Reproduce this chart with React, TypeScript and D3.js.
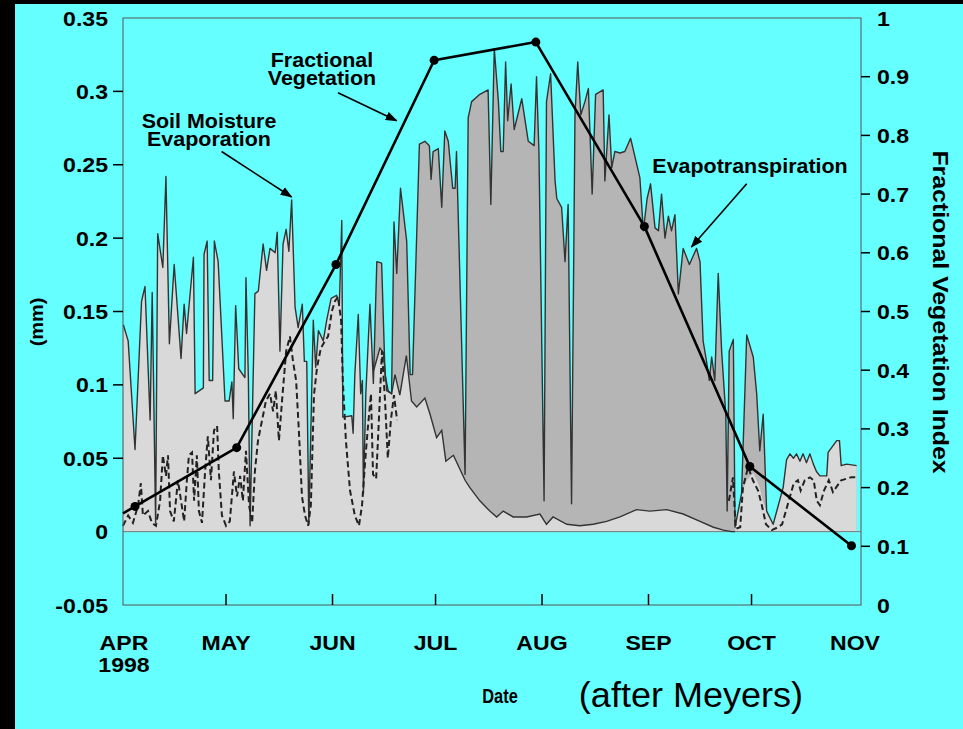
import React from 'react';
import * as d3 from 'd3';

const W = 963;
const H = 729;

// Days are counted from 1 April 1998.
const monthStarts = [0, 30, 61, 91, 122, 153, 183, 214];
const monthLabels = ['APR', 'MAY', 'JUN', 'JUL', 'AUG', 'SEP', 'OCT', 'NOV'];

const mmTicks = [0.35, 0.3, 0.25, 0.2, 0.15, 0.1, 0.05, 0, -0.05];
const mmTickLabels = ['0.35', '0.3', '0.25', '0.2', '0.15', '0.1', '0.05', '0', '-0.05'];
const fvTicks = [1, 0.9, 0.8, 0.7, 0.6, 0.5, 0.4, 0.3, 0.2, 0.1, 0];
const fvTickLabels = ['1', '0.9', '0.8', '0.7', '0.6', '0.5', '0.4', '0.3', '0.2', '0.1', '0'];

// Daily evapotranspiration envelope [day, mm]
const evapotranspiration: [number, number][] = [
  [0.1, 0.141], [1.5, 0.13], [3.5, 0.056], [5.4, 0.157], [6.4, 0.167], [7.9, 0.076], [8.5, 0.163],
  [9.5, 0.006], [10.1, 0.203], [11.6, 0.18], [12.5, 0.242], [13.5, 0.128], [14.9, 0.182], [16.9, 0.118],
  [17.8, 0.155], [18.5, 0.135], [20.5, 0.187], [21.0, 0.094], [23.4, 0.098], [23.6, 0.189], [24.5, 0.198],
  [25.1, 0.103], [26.1, 0.103], [26.6, 0.198], [27.7, 0.184], [29.7, 0.089], [30.9, 0.089], [31.7, 0.102],
  [32.1, 0.077], [32.8, 0.154], [33.7, 0.111], [35.5, 0.105], [35.8, 0.173], [36.5, 0.105], [37.0, 0.004],
  [38.4, 0.162], [39.4, 0.164], [40.8, 0.196], [41.8, 0.178], [42.8, 0.193], [44.3, 0.19], [44.9, 0.204],
  [45.7, 0.123], [46.6, 0.196], [47.5, 0.206], [48.3, 0.191], [49.1, 0.226], [50.1, 0.153], [51.0, 0.139],
  [52.2, 0.155], [52.8, 0.116], [53.5, 0.116], [54.1, 0.005], [55.4, 0.144], [56.1, 0.112], [56.9, 0.137],
  [58.3, 0.13], [59.3, 0.144], [60.6, 0.159], [62.2, 0.161], [63.0, 0.155], [63.7, 0.212], [64.0, 0.078],
  [66.6, 0.079], [67.0, 0.067], [67.5, 0.107], [68.5, 0.148], [69.2, 0.094], [69.7, 0.103], [70.0, 0.026],
  [70.7, 0.094], [71.9, 0.155], [72.9, 0.101], [73.9, 0.184], [75.3, 0.183], [76.3, 0.107], [77.2, 0.096],
  [78.2, 0.094], [78.9, 0.211], [79.7, 0.176], [80.8, 0.234], [82.6, 0.198], [83.6, 0.107], [84.3, 0.107],
  [86.3, 0.264], [87.9, 0.266], [89.2, 0.263], [89.7, 0.24], [90.3, 0.259], [91.8, 0.261], [92.8, 0.221],
  [93.7, 0.273], [94.7, 0.266], [96.0, 0.234], [96.7, 0.234], [97.1, 0.259], [97.8, 0.198], [99.6, 0.039],
  [100.5, 0.282], [101.5, 0.293], [103.9, 0.298], [106.3, 0.301], [107.1, 0.223], [108.1, 0.329],
  [109.3, 0.293], [110.0, 0.259], [110.7, 0.259], [111.4, 0.32], [112.0, 0.28], [113.0, 0.305],
  [113.9, 0.274], [116.1, 0.295], [118.0, 0.266], [119.7, 0.263], [120.4, 0.31], [121.1, 0.259],
  [122.6, 0.021], [123.3, 0.293], [124.5, 0.312], [125.8, 0.239], [126.3, 0.227], [127.7, 0.221],
  [128.7, 0.184], [129.6, 0.223], [130.6, 0.019], [131.6, 0.284], [132.4, 0.32], [133.3, 0.284],
  [134.5, 0.293], [135.5, 0.302], [136.6, 0.23], [137.6, 0.298], [139.8, 0.301], [140.3, 0.239],
  [141.5, 0.284], [142.3, 0.248], [143.2, 0.259], [144.7, 0.258], [146.1, 0.259], [147.8, 0.268],
  [149.1, 0.255], [150.5, 0.241], [151.5, 0.205], [152.6, 0.227], [153.6, 0.237], [154.9, 0.207],
  [155.9, 0.205], [156.8, 0.23], [157.8, 0.2], [158.8, 0.215], [159.7, 0.205], [160.7, 0.216],
  [161.7, 0.162], [163.1, 0.193], [164.9, 0.182], [167.0, 0.193], [168.0, 0.184], [168.9, 0.13],
  [169.9, 0.116], [170.7, 0.103], [171.4, 0.119], [172.3, 0.103], [173.3, 0.176], [174.3, 0.123],
  [175.5, 0.08], [175.9, 0.014], [176.5, 0.123], [177.7, 0.131], [178.2, 0.003], [180.1, 0.026],
  [181.6, 0.134], [183.5, 0.119], [184.5, 0.094], [185.4, 0.055], [186.4, 0.08], [187.4, 0.014],
  [189.3, 0.005], [192.2, 0.03], [193.2, 0.049], [194.2, 0.053], [195.2, 0.05], [196.1, 0.053],
  [197.1, 0.048], [198.0, 0.053], [199.0, 0.047], [200.0, 0.053], [201.0, 0.046], [201.9, 0.041],
  [202.9, 0.038], [204.9, 0.038], [205.3, 0.054], [207.8, 0.062], [208.6, 0.062], [209.1, 0.045],
  [210.7, 0.046], [213.6, 0.045],
];

// Soil moisture evaporation while the canopy is active [day, mm];
// outside this span it equals the evapotranspiration envelope.
const soilEvaporation: [number, number][] = [
  [73.0, 0.11], [74.8, 0.125], [75.8, 0.122], [76.8, 0.096], [78.2, 0.094], [79.2, 0.107], [80.6, 0.093],
  [82.5, 0.12], [84.0, 0.089], [85.5, 0.085], [87.9, 0.091], [89.4, 0.08], [91.3, 0.064], [92.8, 0.069],
  [94.0, 0.048], [96.2, 0.052], [99.6, 0.035], [101.0, 0.03], [103.9, 0.021], [106.8, 0.014],
  [108.8, 0.01], [110.7, 0.014], [113.6, 0.01], [117.5, 0.01], [121.4, 0.012], [123.3, 0.005],
  [125.2, 0.01], [129.2, 0.005], [133.0, 0.004], [136.9, 0.005], [140.8, 0.007], [144.7, 0.01],
  [149.5, 0.015], [153.4, 0.014], [158.3, 0.015], [163.1, 0.012], [168.0, 0.007], [171.9, 0.003],
  [174.8, 0.001], [177.2, 0], [178.2, 0], [180.1, 0.026], [181.6, 0.035], [183.5, 0.04], [184.5, 0.035],
  [185.4, 0.03], [186.4, 0.02], [187.4, 0.014],
];

// Dashed daily series, spring and autumn [day, mm]
const dashedSpring: [number, number][] = [
  [0, 0.004], [1.5, 0.011], [2.9, 0.006], [4.4, 0.018], [5.2, 0.033], [5.8, 0.011], [7.3, 0.014],
  [8.4, 0.006], [9.6, 0.004], [10.8, 0.021], [11.6, 0.052], [12.5, 0.038], [13.1, 0.052], [13.7, 0.014],
  [14.8, 0.007], [16.0, 0.035], [16.9, 0.021], [17.8, 0.007], [18.6, 0.035], [19.2, 0.052], [20.1, 0.054],
  [20.7, 0.021], [21.5, 0.052], [22.1, 0.014], [23.0, 0.006], [23.9, 0.041], [24.7, 0.065], [25.6, 0.035],
  [26.5, 0.069], [27.4, 0.072], [27.9, 0.041], [28.8, 0.011], [30.0, 0.004], [31.1, 0.007], [32.3, 0.041],
  [33.2, 0.024], [34.1, 0.038], [34.9, 0.021], [35.8, 0.055], [36.7, 0.018], [37.6, 0.006], [38.4, 0.041],
  [39.3, 0.062], [40.5, 0.076], [41.6, 0.089], [42.8, 0.094], [43.7, 0.082], [44.5, 0.096], [45.4, 0.062],
  [46.3, 0.089], [47.5, 0.123], [48.6, 0.133], [49.5, 0.116], [50.4, 0.103], [51.2, 0.069], [52.1, 0.024],
  [53.0, 0.011], [53.9, 0.004], [54.7, 0.018], [55.6, 0.093], [56.5, 0.112], [57.6, 0.125], [58.8, 0.13],
  [59.7, 0.133], [60.8, 0.15], [61.7, 0.157], [62.6, 0.16], [63.5, 0.144], [64.0, 0.103], [64.9, 0.062],
  [66.1, 0.028], [67.5, 0.011], [68.7, 0.004], [69.6, 0.018], [70.5, 0.048], [71.3, 0.071], [72.2, 0.094],
  [72.8, 0.039], [73.7, 0.036], [74.5, 0.076], [75.4, 0.123], [76.3, 0.089], [77.1, 0.05], [78.0, 0.076],
  [78.9, 0.093], [79.8, 0.076],
];
const dashedAutumn: [number, number][] = [
  [176.4, 0.021], [177.6, 0.037], [178.4, 0.002], [179.7, 0.003], [180.5, 0.03], [182.0, 0.044],
  [183.4, 0.035], [184.9, 0.028], [186.0, 0.018], [187.2, 0.005], [188.9, 0.001], [190.7, 0.003],
  [191.9, 0.005], [193.0, 0.014], [194.2, 0.024], [195.3, 0.033], [196.5, 0.035], [197.3, 0.028],
  [198.5, 0.035], [200.0, 0.037], [201.1, 0.035], [202.0, 0.021], [202.9, 0.018], [204.1, 0.028],
  [205.5, 0.035], [206.7, 0.027], [207.9, 0.031], [209.1, 0.035], [210.6, 0.036], [212.0, 0.037],
  [213.8, 0.037],
];

// Fractional vegetation index samples [day, index]; the first entry only anchors the line at the axis.
const fvDays = [0, 3.5, 33.1, 62.0, 90.6, 120.2, 151.8, 182.5, 212.1];
const fvValues = [0.156, 0.168, 0.268, 0.58, 0.928, 0.959, 0.645, 0.236, 0.101];

const FONT = '"Liberation Sans", Arial, Helvetica, sans-serif';
const CYAN = 'rgb(102,255,255)';
const LIGHT = 'rgb(217,217,217)';
const DARK = 'rgb(181,181,181)';

const plot = { left: 123, right: 861, top: 18, bottom: 605 };

function Label(props: {
  x: number; y: number; size: number; anchor?: string; sx?: number; weight?: string; rotate?: number;
  children: React.ReactNode;
}) {
  const { x, y, size, anchor = 'start', sx = 1.1, weight = 'bold', rotate = 0, children } = props;
  return (
    <text
      transform={`translate(${x},${y}) rotate(${rotate}) scale(${sx},1)`}
      fontSize={size}
      fontWeight={weight}
      textAnchor={anchor}
      fontFamily={FONT}
      fill="#000"
    >
      {children}
    </text>
  );
}

export default function App() {
  const x = d3.scaleLinear().domain([0, 214]).range([123, 858]);
  const y = d3.scaleLinear().domain([-0.05, 0.35]).range([plot.bottom, plot.top]);
  const yFv = d3.scaleLinear().domain([0, 1]).range([plot.bottom, plot.top]);

  const seStart = soilEvaporation[0][0];
  const seEnd = soilEvaporation[soilEvaporation.length - 1][0];
  const lowerSeries: [number, number][] = [
    ...evapotranspiration.filter((d) => d[0] < seStart),
    ...soilEvaporation,
    ...evapotranspiration.filter((d) => d[0] > seEnd),
  ];

  const area = d3
    .area<[number, number]>()
    .x((d) => x(d[0]))
    .y0(y(0))
    .y1((d) => y(d[1]));
  const line = d3
    .line<[number, number]>()
    .x((d) => x(d[0]))
    .y((d) => y(d[1]));

  const fvPoints: [number, number][] = fvDays.map((d, i) => [d, fvValues[i]]);
  const fvLine = d3
    .line<[number, number]>()
    .x((d) => x(d[0]))
    .y((d) => yFv(d[1]));

  const seStroke = soilEvaporation.filter((d) => d[0] <= 178.2);

  // annotation arrows, anchored in data space (day, mm)
  const arrows: [number, number, number, number][] = [
    [28.7, 0.259, 49.1, 0.228],
    [62.6, 0.299, 79.7, 0.28],
    [181.6, 0.237, 165.5, 0.194],
  ];

  return (
    <svg
      width={W}
      height={H}
      viewBox={`0 0 ${W} ${H}`}
      style={{ position: 'fixed', left: 0, top: 0, display: 'block' }}
    >
      <defs>
        <marker
          id="head"
          viewBox="0 0 12 10"
          refX="11"
          refY="5"
          markerWidth="12"
          markerHeight="10"
          markerUnits="userSpaceOnUse"
          orient="auto"
        >
          <path d="M0,0.5 L12,5 L0,9.5 z" fill="#000" />
        </marker>
      </defs>

      <rect x={0} y={0} width={W} height={H} fill="#000" />
      <rect x={15} y={4} width={W - 15} height={H - 4} fill={CYAN} />

      {/* transpiration (dark) sits between the envelope and soil evaporation */}
      <path d={area(evapotranspiration) || ''} fill={DARK} />
      <path d={area(lowerSeries) || ''} fill={LIGHT} />

      <line x1={plot.left} x2={plot.right} y1={y(0)} y2={y(0)} stroke="#777" strokeWidth={1} />

      <path d={line(seStroke) || ''} fill="none" stroke="#333" strokeWidth={1.4} />
      <path d={line(evapotranspiration) || ''} fill="none" stroke="#333" strokeWidth={1.4} strokeLinejoin="round" />

      <path d={line(dashedSpring) || ''} fill="none" stroke="#222" strokeWidth={2} strokeDasharray="6 3.5" />
      <path d={line(dashedAutumn) || ''} fill="none" stroke="#222" strokeWidth={2} strokeDasharray="6 3.5" />

      {/* frame */}
      <rect
        x={plot.left}
        y={plot.top}
        width={plot.right - plot.left}
        height={plot.bottom - plot.top}
        fill="none"
        stroke="#555"
        strokeWidth={1}
      />

      {/* fractional vegetation */}
      <path d={fvLine(fvPoints) || ''} fill="none" stroke="#000" strokeWidth={2.6} strokeLinejoin="round" />
      {fvPoints.slice(1).map((p, i) => (
        <circle key={i} cx={x(p[0])} cy={yFv(p[1])} r={4.5} fill="#000" />
      ))}

      {/* left axis */}
      {mmTicks.map((t, i) => (
        <g key={`l${i}`}>
          {t > -0.05 && t < 0.35 && t !== 0 && (
            <line x1={plot.left - 10} x2={plot.left} y1={y(t)} y2={y(t)} stroke="#000" strokeWidth={1.5} />
          )}
          <Label x={108} y={y(t) + 7.5} size={21} anchor="end">
            {mmTickLabels[i]}
          </Label>
        </g>
      ))}

      {/* right axis */}
      {fvTicks.map((t, i) => (
        <g key={`r${i}`}>
          {t > 0 && t < 1 && (
            <line x1={plot.right} x2={plot.right + 9} y1={yFv(t)} y2={yFv(t)} stroke="#000" strokeWidth={1.5} />
          )}
          <Label x={877} y={yFv(t) + 7.5} size={21} anchor="start">
            {fvTickLabels[i]}
          </Label>
        </g>
      ))}

      {/* bottom axis */}
      {monthStarts.map((m, i) => (
        <g key={`m${i}`}>
          {i > 0 && i < monthStarts.length - 1 && (
            <line x1={x(m)} x2={x(m)} y1={plot.bottom} y2={plot.bottom - 11} stroke="#000" strokeWidth={1.5} />
          )}
          <Label x={x(m) + (i === 0 ? 1 : i === monthStarts.length - 1 ? -3 : 0)} y={650} size={21} anchor="middle">
            {monthLabels[i]}
          </Label>
        </g>
      ))}
      <Label x={x(0) + 1} y={672} size={21} anchor="middle">
        1998
      </Label>

      <Label x={500} y={703} size={20} anchor="middle" sx={0.82}>
        Date
      </Label>
      <Label x={691} y={707} size={35} anchor="middle" sx={1.03} weight="normal">
        (after Meyers)
      </Label>

      <Label x={43} y={322} size={19} anchor="middle" rotate={-90} sx={1.05}>
        (mm)
      </Label>
      <Label x={933} y={312} size={22} anchor="middle" rotate={90} sx={1.13}>
        Fractional Vegetation Index
      </Label>

      {/* annotations */}
      <Label x={322} y={67} size={19.5} anchor="middle">
        Fractional
      </Label>
      <Label x={322} y={85} size={19.5} anchor="middle">
        Vegetation
      </Label>
      <Label x={209} y={128} size={19.5} anchor="middle">
        Soil Moisture
      </Label>
      <Label x={209} y={146} size={19.5} anchor="middle">
        Evaporation
      </Label>
      <Label x={750} y={173} size={19.5} anchor="middle">
        Evapotranspiration
      </Label>

      {arrows.map((a, i) => (
        <line
          key={`a${i}`}
          x1={x(a[0])}
          y1={y(a[1])}
          x2={x(a[2])}
          y2={y(a[3])}
          stroke="#000"
          strokeWidth={1.6}
          markerEnd="url(#head)"
        />
      ))}
    </svg>
  );
}
